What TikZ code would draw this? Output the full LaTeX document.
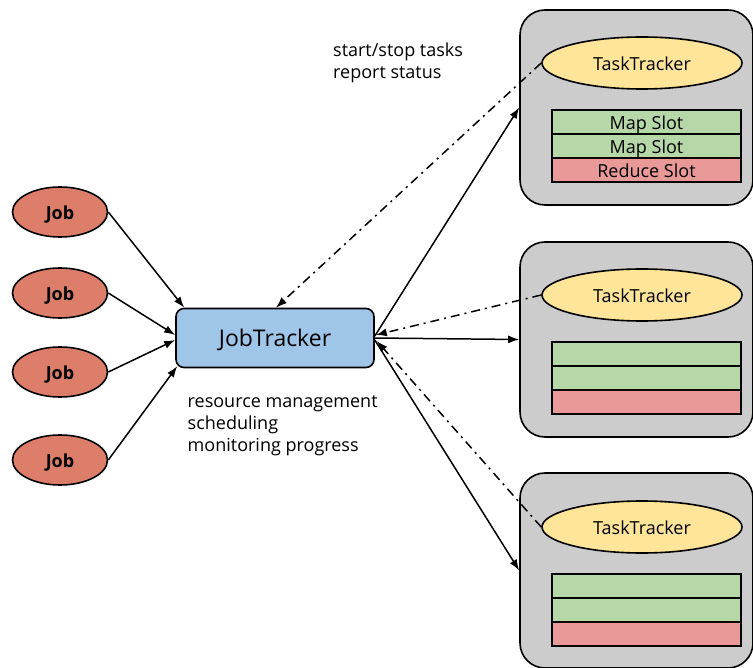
\documentclass[tikz,border=0pt]{standalone}
\usepackage{fontspec}
\setmainfont{Open Sans}
\usetikzlibrary{shapes.geometric,arrows.meta,calc}
\definecolor{jobred}{HTML}{DD7E6B}
\definecolor{jtblue}{HTML}{9FC5E8}
\definecolor{ttyellow}{HTML}{FFE599}
\definecolor{boxgray}{HTML}{CCCCCC}
\definecolor{mapgreen}{HTML}{B6D7A8}
\definecolor{redslot}{HTML}{EA9999}
\tikzset{
  txt/.style={font=\fontsize{18}{22}\selectfont, text height=16pt, text depth=0.5pt},
  jobnode/.style={ellipse, draw, line width=1.6pt, fill=jobred, minimum width=95pt, minimum height=50pt, inner sep=0pt, txt, font=\fontsize{18}{22}\selectfont\bfseries},
  jtnode/.style={rectangle, rounded corners=8pt, draw, line width=1.6pt, fill=jtblue, minimum width=198pt, minimum height=59pt, inner sep=0pt, font=\fontsize{23}{28}\selectfont, text height=20pt, text depth=2pt},
  machine/.style={rectangle, rounded corners=25pt, draw, line width=1.6pt, fill=boxgray, minimum width=233pt, minimum height=195pt, inner sep=0pt},
  ttnode/.style={ellipse, draw, line width=1.6pt, fill=ttyellow, minimum width=200pt, minimum height=52pt, inner sep=0pt, txt},
  slot/.style={rectangle, draw, line width=1.6pt, minimum width=189pt, minimum height=24pt, inner sep=0pt, txt},
  mapslot/.style={slot, fill=mapgreen},
  redslotnode/.style={slot, fill=redslot},
  conn/.style={line width=1.5pt, -{Latex[length=11pt,width=8pt]}},
  ctrl/.style={line width=1.5pt, dash pattern=on 9pt off 5pt on 2pt off 5pt, -{Latex[length=11pt,width=8pt]}},
  lbl/.style={inner sep=0pt, align=left, anchor=north west, font=\fontsize{18}{22}\selectfont}
}
\begin{document}
\begin{tikzpicture}[x=1pt,y=-1pt]
\useasboundingbox (0,0) rectangle (753,668);

% jobs
\node[jobnode] (job1) at (60,212) {Job};
\node[jobnode] (job2) at (60,293) {Job};
\node[jobnode] (job3) at (60,372) {Job};
\node[jobnode] (job4) at (60,460) {Job};

% job tracker
\node[jtnode] (jt) at (275,338) {JobTracker};

% machines
\node[machine] (box1) at (636.5,107.5) {};
\node[machine] (box2) at (636.5,339.5) {};
\node[machine] (box3) at (636.5,570.5) {};

\node[ttnode] (tt1) at (642,63) {TaskTracker};
\node[ttnode] (tt2) at (642,295) {TaskTracker};
\node[ttnode] (tt3) at (642,527) {TaskTracker};

\node[mapslot] (m11) at (646.5,122) {Map Slot};
\node[mapslot] (m12) at (646.5,146) {Map Slot};
\node[redslotnode] (r1) at (646.5,170) {Reduce Slot};

\node[mapslot] (m21) at (646.5,354) {};
\node[mapslot] (m22) at (646.5,378) {};
\node[redslotnode] (r2) at (646.5,402) {};

\node[mapslot] (m31) at (646.5,586) {};
\node[mapslot] (m32) at (646.5,610) {};
\node[redslotnode] (r3) at (646.5,634) {};

% labels
\node[lbl] (lab1) at (333,43) {start/stop tasks\\report status};
\node[lbl] (lab2) at (187.5,395) {resource management\\scheduling\\monitoring progress};

% job arrows
\draw[conn] (job1.east) -- ($(jt.north west)+(9,0)$);
\draw[conn] (job2.east) -- ($(jt.west)+(0,-3)$);
\draw[conn] (job3.east) -- ($(jt.west)+(0,2)$);
\draw[conn] (job4.east) -- ($(jt.south west)+(2,-2)$);

% job tracker to machines
\draw[conn] ($(jt.east)+(0,-2)$) -- (box1.west);
\draw[conn] (jt.east) -- (box2.west);
\draw[conn] ($(jt.east)+(0,2)$) -- (box3.west);

% control messages
\draw[ctrl] (tt1.west) -- ($(jt.north)+(1,0)$);
\draw[ctrl] (tt2.west) -- ($(jt.east)+(1,-3)$);
\draw[ctrl] (tt3.west) -- ($(jt.east)+(2,3)$);
\end{tikzpicture}
\end{document}
